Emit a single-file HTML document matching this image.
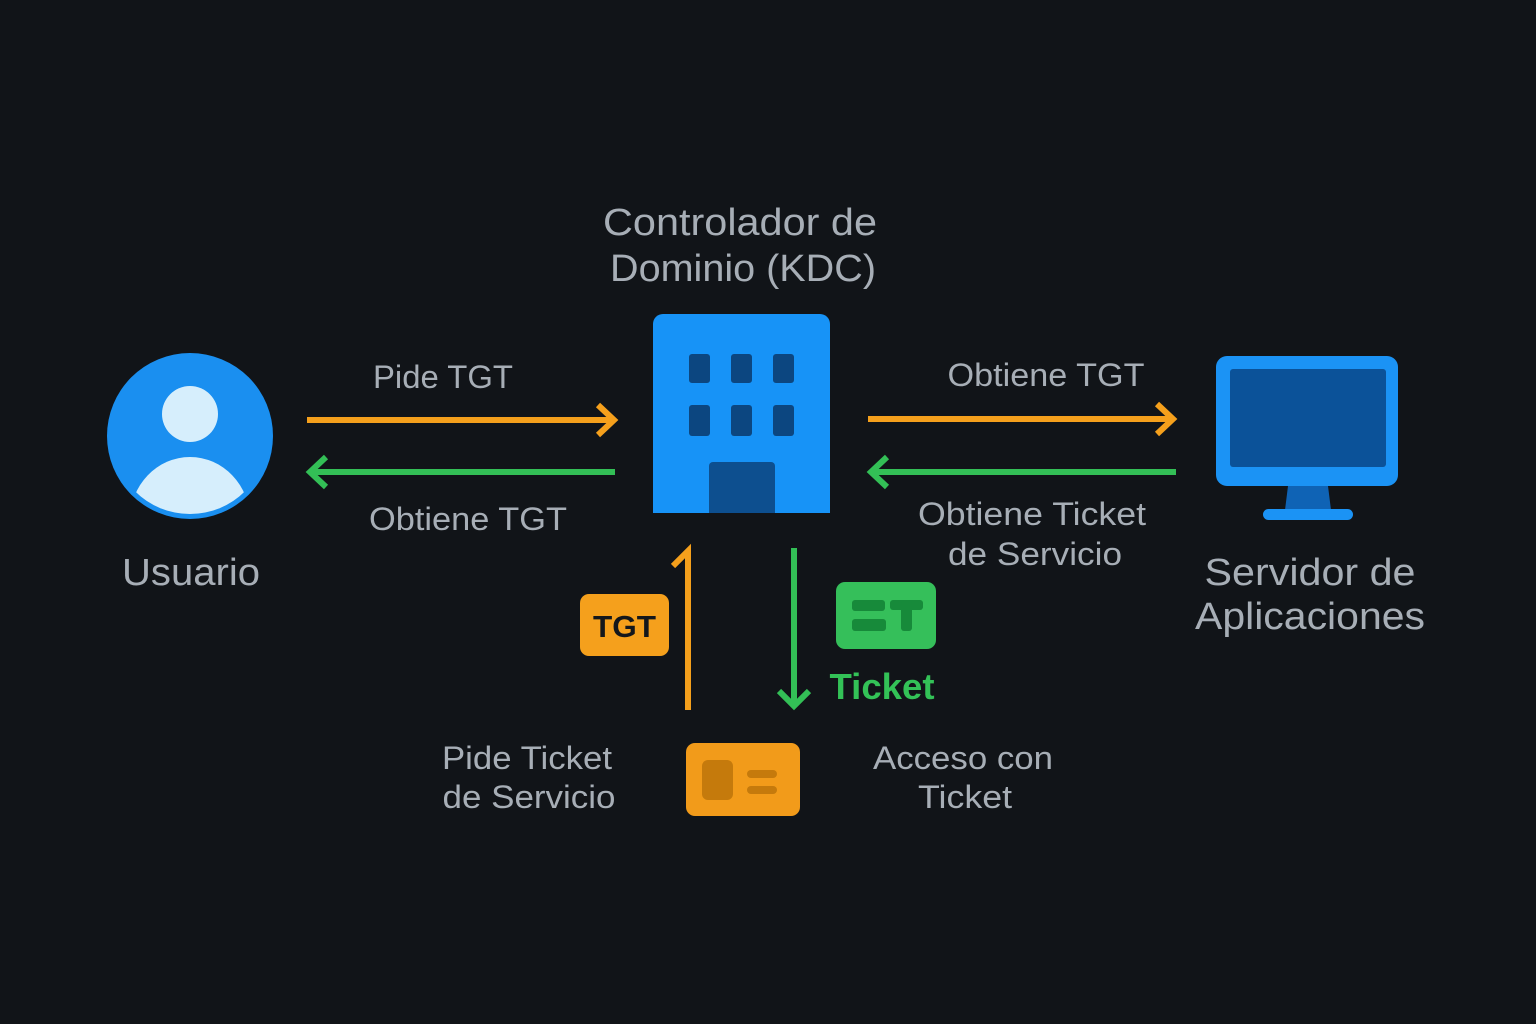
<!DOCTYPE html>
<html><head><meta charset="utf-8"><style>
html,body{margin:0;padding:0;background:#111418;}
svg{display:block}
text{font-family:"Liberation Sans","DejaVu Sans",sans-serif;fill:#a7aeb6;text-anchor:middle}
</style></head><body>
<svg width="1536" height="1024" viewBox="0 0 1536 1024" xmlns="http://www.w3.org/2000/svg">
<rect width="1536" height="1024" fill="#111418"/>
<defs><clipPath id="uc"><circle cx="190" cy="436" r="78"/></clipPath></defs>
<circle cx="190" cy="436" r="83" fill="#1a8ff0"/>
<circle cx="190" cy="414" r="28" fill="#d6eefc"/>
<ellipse cx="190" cy="520" rx="60" ry="63" fill="#d6eefc" clip-path="url(#uc)"/>
<text x="191" y="585" font-size="38" textLength="138" lengthAdjust="spacingAndGlyphs">Usuario</text>
<path d="M653 513 V324 a10 10 0 0 1 10 -10 H820 a10 10 0 0 1 10 10 V513 Z" fill="#1793f7"/>
<g fill="#0c4680">
<rect x="689" y="354" width="21" height="29" rx="3"/><rect x="731" y="354" width="21" height="29" rx="3"/><rect x="773" y="354" width="21" height="29" rx="3"/>
<rect x="689" y="405" width="21" height="31" rx="3"/><rect x="731" y="405" width="21" height="31" rx="3"/><rect x="773" y="405" width="21" height="31" rx="3"/>
</g>
<path d="M709 513 V466 a4 4 0 0 1 4 -4 H771 a4 4 0 0 1 4 4 V513 Z" fill="#0d4f8f"/>
<text x="740" y="235" font-size="38" textLength="274" lengthAdjust="spacingAndGlyphs">Controlador de</text>
<text x="743" y="281" font-size="38" textLength="266" lengthAdjust="spacingAndGlyphs">Dominio (KDC)</text>
<rect x="1216" y="356" width="182" height="130" rx="11" fill="#1b93f5"/>
<rect x="1230" y="369" width="156" height="98" rx="3" fill="#0b5299"/>
<path d="M1288 486 L1328 486 L1331 510 L1285 510 Z" fill="#0f63b5"/>
<rect x="1263" y="509" width="90" height="11" rx="5.5" fill="#1b93f5"/>
<text x="1310" y="585" font-size="38" textLength="211" lengthAdjust="spacingAndGlyphs">Servidor de</text>
<text x="1310" y="629" font-size="38" textLength="230" lengthAdjust="spacingAndGlyphs">Aplicaciones</text>
<g stroke-width="6" fill="none" stroke-linecap="butt">
<line x1="307" y1="420" x2="614" y2="420" stroke="#f5a01c"/>
<polyline points="598,405 614,420 598,435" stroke="#f5a01c"/>
<line x1="310" y1="472" x2="615" y2="472" stroke="#33bf56"/>
<polyline points="326,457 310,472 326,487" stroke="#33bf56"/>
<line x1="868" y1="419" x2="1173" y2="419" stroke="#f5a01c"/>
<polyline points="1157,404 1173,419 1157,434" stroke="#f5a01c"/>
<line x1="871" y1="472" x2="1176" y2="472" stroke="#33bf56"/>
<polyline points="887,457 871,472 887,487" stroke="#33bf56"/>
<polyline points="688,710 688,551 673,566" stroke="#f5a01c"/>
<line x1="794" y1="548" x2="794" y2="706" stroke="#33bf56"/>
<polyline points="779,691 794,706 809,691" stroke="#33bf56"/>
</g>
<text x="443" y="388" font-size="32" textLength="140" lengthAdjust="spacingAndGlyphs">Pide TGT</text>
<text x="468" y="530" font-size="32" textLength="198" lengthAdjust="spacingAndGlyphs">Obtiene TGT</text>
<text x="1046" y="386" font-size="32" textLength="197" lengthAdjust="spacingAndGlyphs">Obtiene TGT</text>
<text x="1032" y="525" font-size="32" textLength="228" lengthAdjust="spacingAndGlyphs">Obtiene Ticket</text>
<text x="1035" y="565" font-size="32" textLength="174" lengthAdjust="spacingAndGlyphs">de Servicio</text>
<text x="527" y="769" font-size="32" textLength="170" lengthAdjust="spacingAndGlyphs">Pide Ticket</text>
<text x="529" y="808" font-size="32" textLength="173" lengthAdjust="spacingAndGlyphs">de Servicio</text>
<text x="963" y="769" font-size="32" textLength="180" lengthAdjust="spacingAndGlyphs">Acceso con</text>
<text x="965" y="808" font-size="32" textLength="94" lengthAdjust="spacingAndGlyphs">Ticket</text>
<rect x="580" y="594" width="89" height="62" rx="9" fill="#f5a01c"/>
<text x="624.5" y="637" font-size="31" font-weight="bold" style="fill:#14171b" textLength="63" lengthAdjust="spacingAndGlyphs">TGT</text>
<rect x="836" y="582" width="100" height="67" rx="9" fill="#35bf5a"/>
<g fill="#178a3a">
<rect x="852" y="600" width="33" height="11" rx="3"/><rect x="852" y="619" width="34" height="12" rx="3"/>
<rect x="890" y="600" width="33" height="10" rx="3"/><rect x="901" y="600" width="11" height="31" rx="3"/>
</g>
<text x="882" y="699" font-size="36" font-weight="bold" style="fill:#33c257" textLength="105" lengthAdjust="spacingAndGlyphs">Ticket</text>
<rect x="686" y="743" width="114" height="73" rx="9" fill="#f29b1a"/>
<rect x="702" y="760" width="31" height="40" rx="6" fill="#c57a0c"/>
<rect x="747" y="770" width="30" height="8" rx="4" fill="#c57a0c"/>
<rect x="747" y="786" width="30" height="8" rx="4" fill="#c57a0c"/>
</svg>
</body></html>
